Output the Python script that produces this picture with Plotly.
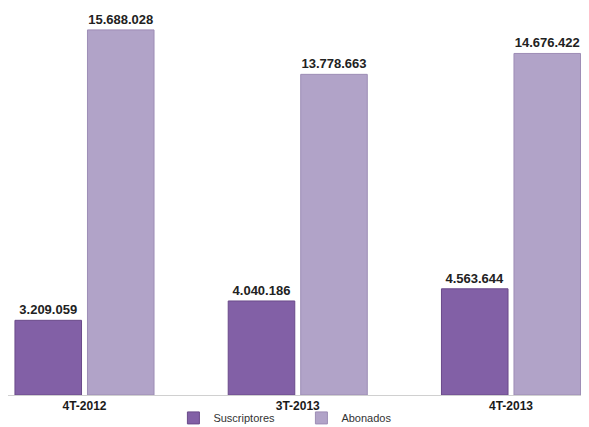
import plotly.graph_objects as go

categories = ["4T-2012", "3T-2013", "4T-2013"]
suscriptores = [3209059, 4040186, 4563644]
abonados = [15688028, 13778663, 14676422]


def fmt(v):
    return f"{v:,}".replace(",", ".")


fig = go.Figure()
fig.add_trace(go.Bar(
    name="Suscriptores", x=categories, y=suscriptores,
    text=[fmt(v) for v in suscriptores], textposition="outside",
    marker=dict(color="#8260a6", line=dict(color="#6a4a8a", width=1)),
    textfont=dict(family="Liberation Sans", size=13, color="#222222", weight="bold"),
    cliponaxis=False,
))
fig.add_trace(go.Bar(
    name="Abonados", x=categories, y=abonados,
    text=[fmt(v) for v in abonados], textposition="outside",
    marker=dict(color="#b1a3c8", line=dict(color="#9d8db5", width=1)),
    textfont=dict(family="Liberation Sans", size=13, color="#222222", weight="bold"),
    cliponaxis=False,
))

fig.update_layout(
    width=589, height=427,
    margin=dict(l=0, r=8, t=0, b=40, autoexpand=False),
    paper_bgcolor="white", plot_bgcolor="white",
    barmode="group", bargap=0.32, bargroupgap=0.082,
    font=dict(family="Liberation Sans", color="#222222"),
    xaxis=dict(
        type="category", range=[-0.3587, 2.3658],
        showline=True, linecolor="#d0d0d0", linewidth=1,
        ticks="", tickfont=dict(size=12, color="#1a1a1a", weight="bold"),
        showgrid=False, zeroline=False, automargin=False,
    ),
    yaxis=dict(range=[0, 16.63e6], visible=False, showgrid=False),
    legend=dict(
        orientation="h", x=0.2847, xanchor="left",
        yref="container", y=0.04, yanchor="middle",
        font=dict(size=11, color="#333333"),
        entrywidth=83, entrywidthmode="pixels",
        bgcolor="rgba(0,0,0,0)",
    ),
)

fig.write_html("out.html")
